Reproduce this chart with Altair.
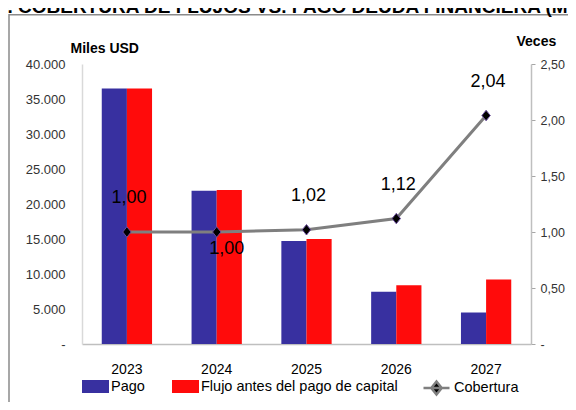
import altair as alt
import pandas as pd

# ---- data ----
years = ["2023", "2024", "2025", "2026", "2027"]
pago = [36500, 21900, 14700, 7450, 4500]
flujo = [36500, 22000, 15000, 8400, 9200]
cobertura = [1.00, 1.00, 1.02, 1.12, 2.04]

series = ["Pago", "Flujo antes del pago de capital"]
colors = ["#3830A0", "#FF0B0B"]
left_ticks = [0, 5000, 10000, 15000, 20000, 25000, 30000, 35000, 40000]
right_ticks = [0, 0.5, 1.0, 1.5, 2.0, 2.5]
title_text = "GRÁFICO 4. COBERTURA DE FLUJOS VS. PAGO DEUDA FINANCIERA (MILES USD)"

bars_df = pd.DataFrame(
    {"year": years * 2,
     "serie": [series[0]] * len(years) + [series[1]] * len(years),
     "valor": pago + flujo}
)
line_df = pd.DataFrame({"year": years, "cob": cobertura, "serie": ["Cobertura"] * len(years)})

FONT = "Liberation Sans, Arial, sans-serif"

xaxis = alt.Axis(title=None, labelFont=FONT, labelFontSize=14, labelColor="black",
                 labelAngle=0, ticks=False, tickSize=0, labelPadding=18,
                 domainColor="#bfbfbf", domainWidth=1.5, grid=False)
xscale = alt.Scale(domain=years, paddingInner=0.44, paddingOuter=0.22)

left_axis = alt.Axis(
    orient="left", values=left_ticks, grid=False, ticks=False, tickSize=0,
    labelExpr="datum.value == 0 ? '-\u00a0\u00a0' : replace(format(datum.value, ',.0f'), ',', '.')",
    labelFont=FONT, labelFontSize=13, labelColor="#333333", labelPadding=17,
    domainColor="#d9d9d9", domainWidth=1.5,
    title="Miles USD", titleAngle=0, titleX=-12, titleY=-16, titleAlign="left",
    titleBaseline="middle", titleFont=FONT, titleFontSize=14, titleFontWeight="bold",
    titleColor="black",
)
right_axis = alt.Axis(
    orient="right", values=right_ticks, grid=False, ticks=True, tickSize=4,
    tickColor="#a6a6a6", domainColor="#bfbfbf", domainWidth=1.5,
    labelExpr="datum.value == 0 ? '-' : replace(format(datum.value, '.2f'), '.', ',')",
    labelFont=FONT, labelFontSize=12.5, labelColor="#333333", labelPadding=5,
    title="Veces", titleAngle=0, titleX=-15, titleY=-23, titleAlign="left",
    titleBaseline="middle", titleFont=FONT, titleFontSize=14, titleFontWeight="bold",
    titleColor="black",
)

frame = alt.Chart(alt.Data(values=[{}])).mark_rect(
    fill=None, stroke="#8a8a8a", strokeWidth=1.5
).encode(x=alt.value(-73), x2=alt.value(560), y=alt.value(-49.3), y2=alt.value(400))

title = alt.Chart(alt.Data(values=[{}])).mark_text(
    align="left", baseline="alphabetic", font=FONT,
    fontSize=19, fontWeight="bold", color="black"
).encode(x=alt.value(-178), y=alt.value(-51.5), text=alt.value(title_text))

bars = alt.Chart(bars_df).mark_bar().encode(
    x=alt.X("year:N", scale=xscale, axis=xaxis),
    xOffset=alt.XOffset("serie:N", sort=series,
                        scale=alt.Scale(domain=series, paddingInner=0, paddingOuter=0)),
    y=alt.Y("valor:Q", scale=alt.Scale(domain=[0, 40000], nice=False), axis=left_axis),
    color=alt.Color("serie:N", scale=alt.Scale(domain=series, range=colors),
                    legend=alt.Legend(orient="none", legendX=0, legendY=309,
                                      direction="horizontal", title=None,
                                      symbolType="M-1,-0.48H1V0.48H-1Z", symbolSize=729,
                                      symbolStrokeWidth=0, labelFont=FONT,
                                      labelFontSize=14.5, labelColor="black",
                                      labelLimit=0, labelOffset=2, columnPadding=27,
                                      padding=0, offset=0)),
)

yr = alt.Y("cob:Q", scale=alt.Scale(domain=[0, 2.5], nice=False), axis=right_axis)
xl = alt.X("year:N", scale=xscale, axis=xaxis, bandPosition=0.5)

line = alt.Chart(line_df).mark_line(strokeWidth=3).encode(
    x=xl, y=yr,
    stroke=alt.Stroke("serie:N", scale=alt.Scale(domain=["Cobertura"], range=["#7f7f7f"]),
                      legend=alt.Legend(orient="none", legendX=340, legendY=309.5,
                                        title=None,
                                        symbolType="M-1,0H1M0,-0.5L0.4,0L0,0.5L-0.4,0Z",
                                        symbolSize=676, symbolStrokeWidth=2.5,
                                        symbolFillColor="black", labelFont=FONT,
                                        labelFontSize=14.5, labelColor="black",
                                        labelLimit=0, labelOffset=3, padding=0, offset=0)),
)
points = alt.Chart(line_df).mark_point(
    shape="M0,-1L0.8,0L0,1L-0.8,0Z", size=110, filled=True, fill="black",
    stroke="#6a4c9c", strokeWidth=1, opacity=1
).encode(x=xl, y=yr)

lab_base = alt.Chart(line_df).transform_calculate(
    lbl="replace(format(datum.cob, '.2f'), '.', ',')"
)
labels_up = lab_base.transform_filter("datum.year != '2024'").mark_text(
    font=FONT, fontSize=18, color="black", dy=-34, dx=2, baseline="middle"
).encode(x=xl, y=yr, text="lbl:N")
labels_down = lab_base.transform_filter("datum.year == '2024'").mark_text(
    font=FONT, fontSize=18, color="black", dy=17, dx=10, baseline="middle"
).encode(x=xl, y=yr, text="lbl:N")

right_layer = alt.layer(line, points, labels_up, labels_down)

chart = alt.layer(frame, title, bars, right_layer).resolve_scale(
    y="independent"
).properties(
    width=449, height=280,
    padding={"left": 74, "top": 56, "right": 37, "bottom": 58},
    autosize=alt.AutoSizeParams(type="none"),
).configure_view(stroke=None)

chart.save("out.html", embed_options={"renderer": "svg", "actions": False})
